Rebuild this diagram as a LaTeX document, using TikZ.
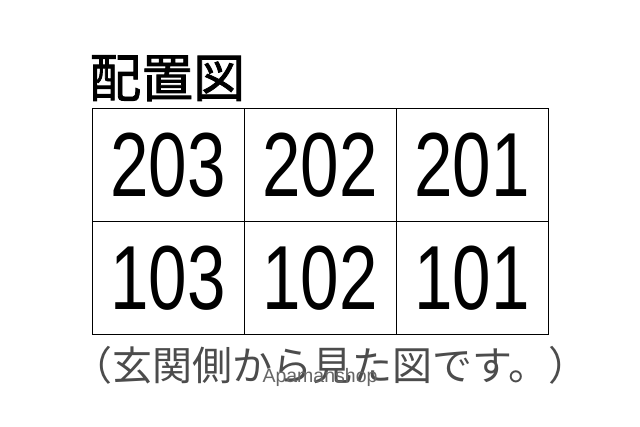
\documentclass[tikz,border=0pt]{standalone}
\usepackage{fontspec}
\usepackage{graphicx}
\setmainfont{Liberation Sans}
\newfontfamily\cjk{Noto Sans CJK JP}
\newfontfamily\cjkhead[FakeBold=1.6]{Noto Sans CJK JP}
\usetikzlibrary{positioning}

\begin{document}
\begin{tikzpicture}[
    x=1pt, y=1pt,
    node distance=0pt,
    room/.style={
		rectangle,
		draw=black,
		line width=1pt,
		inner sep=0pt,
		outer sep=0pt,
		minimum width=152pt,
		minimum height=113pt,
		text centered,
		fill=white
	},
	title/.style={
		inner sep=0pt,
		font=\cjkhead\fontsize{52}{52}\selectfont
	},
	note/.style={
		inner sep=0pt,
		text=black!70,
		font=\cjk\fontsize{40}{40}\selectfont
	},
	shopmark/.style={
		inner sep=0pt,
		text=black!60,
		font=\fontsize{19.5}{19.5}\selectfont
	}
  ]
  \useasboundingbox (0,0) rectangle (640,-427);
  \newcommand{\roomno}[1]{\scalebox{0.76}[1]{\fontsize{91}{91}\selectfont #1}}

    % We start by placing the title
  \node [title, anchor=base west] (plan) at (89,-97) {配置図};

    % upper floor
  \node [room, anchor=north west] (room203) at (92,-109) {\roomno{203}};
  \node [room, right=of room203] (room202) {\roomno{202}};
  \node [room, right=of room202] (room201) {\roomno{201}};

    % lower floor
  \node [room, below=of room203] (room103) {\roomno{103}};
  \node [room, below=of room202] (room102) {\roomno{102}};
  \node [room, below=of room201] (room101) {\roomno{101}};

  \node [note] (view) at (330,-365) {（玄関側から見た図です。）};
  \node [shopmark] (shop) at (320,-377) {Apamanshop};

\end{tikzpicture}
\end{document}
